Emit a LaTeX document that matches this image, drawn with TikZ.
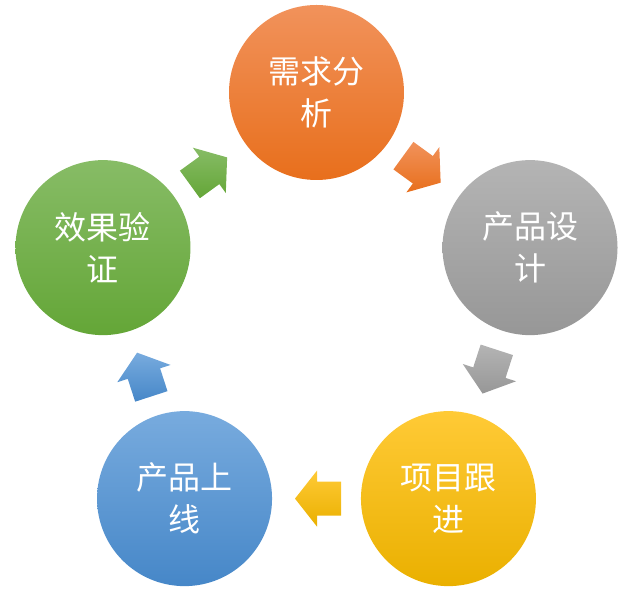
\documentclass[tikz,border=0pt]{standalone}
\usepackage{fontspec}
\newfontfamily\cjk{Noto Sans CJK SC}
\usetikzlibrary{calc}
\definecolor{orT}{HTML}{F1925B}\definecolor{orB}{HTML}{E86F1C}
\definecolor{grT}{HTML}{B4B4B4}\definecolor{grB}{HTML}{979797}
\definecolor{yeT}{HTML}{FFCA36}\definecolor{yeB}{HTML}{EAB000}
\definecolor{blT}{HTML}{78ABDE}\definecolor{blB}{HTML}{4687C8}
\definecolor{gnT}{HTML}{87BC66}\definecolor{gnB}{HTML}{64A637}
\tikzset{
  stage/.style={circle,minimum size=175pt,inner sep=0pt,text=white,
    font=\cjk\fontsize{32pt}{42pt}\selectfont,align=center},
  blockarrow/.pic={\path[pic actions] (21.5,0) -- (-0.5,28) -- (-0.5,17) -- (-24.5,17)
    -- (-24.5,-17) -- (-0.5,-17) -- (-0.5,-28) -- cycle;}
}
\begin{document}
\begin{tikzpicture}[x=1pt,y=1pt]
\useasboundingbox (0,0) rectangle (635,591);
\coordinate (C) at (316.5,274);
\node[stage,top color=orT,bottom color=orB] (s1) at ($(C)+(90:224.5)$) {需求分\\析};
\node[stage,top color=grT,bottom color=grB] (s2) at ($(C)+(18:224.5)$) {产品设\\计};
\node[stage,top color=yeT,bottom color=yeB] (s3) at ($(C)+(-54:224.5)$) {项目跟\\进};
\node[stage,top color=blT,bottom color=blB] (s4) at ($(C)+(-126:224.5)$) {产品上\\线};
\node[stage,top color=gnT,bottom color=gnB] (s5) at ($(C)+(162:224.5)$) {效果验\\证};
\pic[rotate=-36,top color=orT,bottom color=orB] at ($(s1)!0.5!(s2)$) {blockarrow};
\pic[rotate=-108,top color=grT,bottom color=grB] at ($(s2)!0.5!(s3)$) {blockarrow};
\pic[rotate=180,top color=yeT,bottom color=yeB] at ($(s3)!0.5!(s4)$) {blockarrow};
\pic[rotate=108,top color=blT,bottom color=blB] at ($(s4)!0.5!(s5)$) {blockarrow};
\pic[rotate=36,top color=gnT,bottom color=gnB] at ($(s5)!0.5!(s1)$) {blockarrow};
\end{tikzpicture}
\end{document}
